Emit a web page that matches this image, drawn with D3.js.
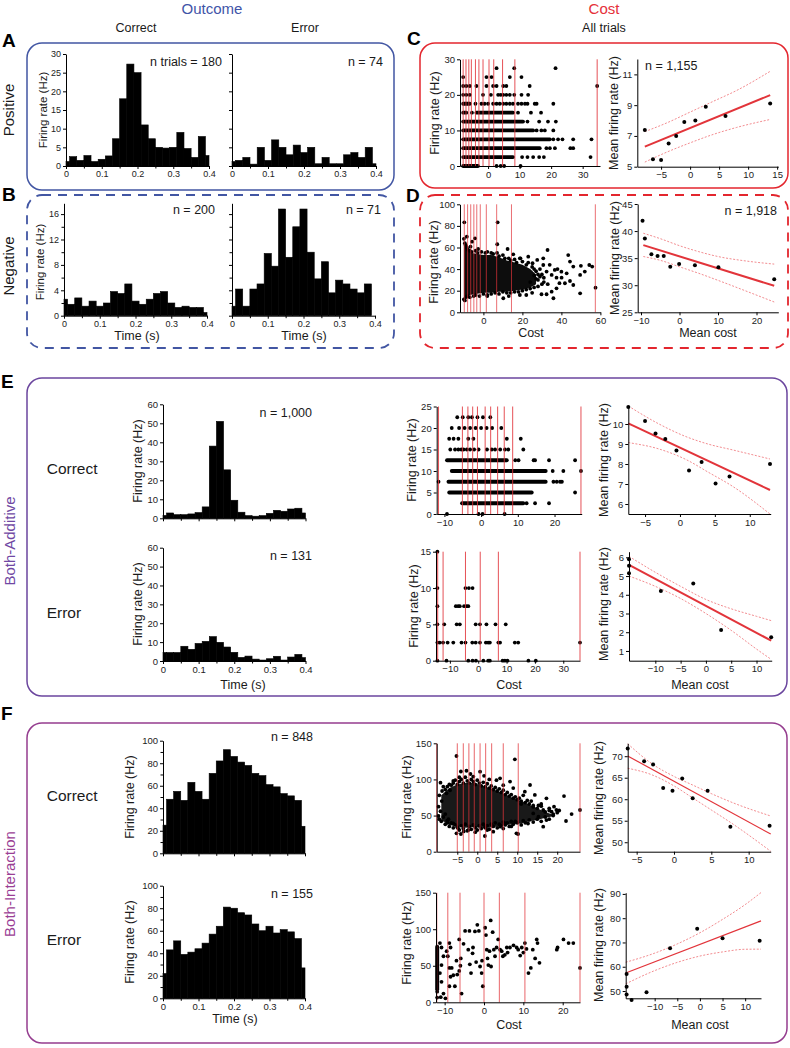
<!DOCTYPE html>
<html><head><meta charset="utf-8">
<script src="https://cdn.jsdelivr.net/npm/d3@7"></script>
<style>body{margin:0;background:#fff}svg{display:block}</style>
</head><body>
<svg id="fig" width="790" height="1048"></svg>
<script>
// ================= DATA =================
const binCenters = [0,0.02,0.04,0.06,0.08,0.1,0.12,0.14,0.16,0.18,0.2,0.22,0.24,0.26,0.28,0.3,0.32,0.34,0.36,0.38,0.4];
const binWidth = 0.02;
const histA_correct = [1.2,2.5,1.5,2.8,1.2,1.8,2.7,7.3,18,27.3,25,11,7.3,5,4.8,5,9,4.7,2.3,7.9,2.8];
const histA_error   = [1.2,1.5,2.3,0.5,5,1.5,7,5,3,5.6,3.6,5,0.6,2.3,0.6,0.6,3,3.6,2.3,5,0.6];
const histB_correct = [2.6,1.8,2.8,1.5,2.3,1.5,2,3.8,3.5,5,2.3,1.8,2.6,3.5,3.8,2,1.3,1.5,1.3,1.3,0.5];
const histB_error   = [1.5,4.2,1.5,4.2,5,9.8,7.8,16.8,9.2,14,16.8,10,5.8,8.5,3.6,5.6,5,4.2,3.6,5,0];
const histE_correct = [1.5,2.8,1.9,1.9,2.3,3,6,38,51,25.5,9.5,3.2,1.4,1.1,1.4,2.6,4.2,3.7,4.9,5.3,2.8];
const histE_error   = [4.5,4.5,4.5,7.8,6.2,9.3,10.4,12.9,9.9,7.4,4.6,1.9,2.6,1,0.5,1.2,2.5,0.5,2.1,3.5,1.8];
const histF_correct = [25,48,55,47,63,55,48,71,82,92,86,81,78,71,69,61,59,53,51,47,24];
const histF_error   = [22,43,51,39,41,44,49,57,64,81,80,76,74,66,60,64,58,61,59,53,27];

// tick values
const ticksTime = [0,0.1,0.2,0.3,0.4];
const ticksTimeMinor = [0.05,0.15,0.25,0.35];
const ticksA_y = [0,5,10,15,20,25,30];
const ticksB_y = [0,4,8,12,16];
const ticksB_yMinor = [2,6,10,14];
const ticksE_histY = [0,10,20,30,40,50,60];
const ticksF_histY = [0,20,40,60,80,100];
const ticksF_histYMinor = [10,30,50,70,90];
const ticksC_sx = [0,10,20,30], ticksC_sy = [0,10,20,30];
const ticksC_mx = [-5,0,5,10,15], ticksC_my = [5,7,9,11];
const ticksD_sx = [0,20,40,60], ticksD_sy = [0,20,40,60,80,100];
const ticksD_mx = [-10,0,10,20], ticksD_my = [25,30,35,40,45];
const ticksE3_x = [-10,0,10,20], ticksE3_y = [0,5,10,15,20,25];
const ticksE4_x = [-10,0,10,20,30], ticksE4_y = [0,5,10,15];
const ticksE5_x = [-5,0,5,10], ticksE5_y = [6,7,8,9,10];
const ticksE6_x = [-10,-5,0,5,10], ticksE6_y = [1,2,3,4,5,6];
const ticksF3_x = [-5,0,5,10,15,20], ticksF3_y = [0,50,100,150];
const ticksF4_x = [-10,0,10,20], ticksF4_y = [0,50,100,150];
const ticksF5_x = [-5,0,5,10], ticksF5_y = [50,55,60,65,70];
const ticksF6_x = [-10,-5,0,5,10], ticksF6_y = [50,60,70,80,90];

// ---- C: cost scatter (rows: [rate, dense runs, single points]) ----
const cutsC = [-7.9,-7.0,-6.1,-5.3,-4.0,-2.9,-1.6,0.3,1.8,4.6,8.5,34.6];
const rowsC = [
 [0,   [[-7.9,-3.2]], [2.7,4.0,5.1,10.3]],
 [2.5, [[-7.9,7.9]],  [10.8,12.5,14.3,16.2,17.7,32.5]],
 [5,   [[-7.9,16.4]], [18.5,19.6,21.2,26.1,27.0]],
 [7.5, [[-7.9,19.6]], [20.7,22.2,23.6,27.0,32.8]],
 [10,  [[-7.9,14.3]], [15.4,16.9,18.0,20.7]],
 [12.5,[[-7.9,11.1]], [12.5,16.2,19.0,21.5]],
 [15,  [[-7.9,-6.9],[-3.7,7.9]], [-5.1,9.5,13.6,16.8]],
 [17.5,[[-7.9,-5.8]], [-4.0,-2.1,-1.1,0,1.6,2.7,3.7,4.8,5.8,6.9,7.9,9.5,10.6,11.7,12.5,14.8,15.4,20.7]],
 [20,  [], [-7.9,-6.9,-5.8,-1.6,0.9,3.2,4.0,4.8,5.8,6.9,8.3,10.6,12.7]],
 [22.5,[], [-7.9,-6.9,-5.8,-3.7,-0.5,1.6,2.7,4.8,5.8,13.2,34.6]],
 [25,  [], [-7.9,-0.5,1.1,6.9,10.6]],
 [27.5,[], [2.7,8.3,21.4]]
];
const meanC = [[-7.8,7.38],[-6.4,5.48],[-5.0,5.43],[-3.7,6.5],[-2.4,7.0],[-1.0,7.9],[0.9,8.0],[2.7,8.9],[6.1,8.3],[13.8,9.1]];
const fitC = [[-7.8,6.3],[13.8,9.65]];
const ciUpC = [[-7.8,7.28],[-4,7.85],[0,8.55],[4,9.25],[8,9.95],[13.8,11.2]];
const ciLoC = [[-7.8,5.3],[-4,5.95],[0,6.55],[4,7.1],[8,7.55],[13.8,8.07]];

// ---- D ----
const cutsD = [-9.8,-8.1,-6.5,-4.9,-3.4,-1.6,1.5,6.8,14.4,57.4];
const coreD_upper = [[-10,64],[-9,62],[-8,57],[-6,55],[-3,54],[0,53],[4,53],[8,51],[12,48],[16,46],[20,44],[24,40],[27,35]];
const coreD_lower = [[27,26],[24,23],[20,21],[16,20],[12,19],[8,19],[4,18],[0,18],[-4,17],[-7,16],[-9,15],[-10,14]];
const ptsD = [[-9.8,83.3],[7.3,83.3],[-4.3,68.5],[-5.8,65.4],[-6.6,60.8],[-2.7,58.6],[7.1,63],[12.4,58.6],[15.3,53.7],[18.7,50],[23,51.5],[25.2,45.4],[27.6,48.5],[30.7,50],[32.9,57.7],[30.7,43.8],[32.4,37.7],[35,34.6],[37.5,32.1],[40.1,32.1],[43.5,53],[44.4,47],[46.1,42.3],[50,43],[52,37.7],[54.3,43.8],[55.8,42.3],[49.6,34.6],[44.4,29],[41.8,26.9],[46.1,25.3],[49.6,17.6],[37.5,22.2],[35,19.1],[32.4,16.7],[29.8,16.7],[35.9,13],[10.2,13],[18.7,16],[57.5,22.8],[40,37.6],[36.6,39.2],[42.7,36.1],[28,30],[31,28],[33,26],[29,40],[34,44],[38,40],[39,27],[26,34],[30,35],[-8.5,70],[-9.5,11],[2,15],[13,15],[22,16],[25,18],
 [-10,68],[-9.5,64],[-9,62],[-8.5,60],[-8,58],[-7,57],[-6,56],[-4,57],[-3,55],[-1,56],[1,55],[2,56],[4,55],[5,54],[7,55],[8,52],[10,53],[11,50],[13,50],[14,48],[16,49],[17,46],[19,50],[20,47],[22,44],[23,46],[25,42],[26,40],[27,38],[28,35],[29,33],
 [-10,12],[-9,14],[-8,15],[-7,14],[-5,15],[-4,16],[-2,15],[0,17],[2,16],[4,17],[6,18],[8,17],[10,19],[12,18],[14,18],[16,19],[18,19],[20,20],[22,21],[24,22],[26,23],[28,24],[30,26],[31,32],[24,28],[27,31]];
const meanD = [[-9.6,41.9],[-9.0,38.65],[-7.3,35.7],[-5.7,35.4],[-4.1,35.4],[-2.4,33.4],[-0.1,33.9],[4.0,33.7],[10.1,33.3],[24.6,31.1]];
const fitD = [[-9.4,37.4],[24.6,29.9]];
const ciUpD = [[-9.4,39.6],[-5,38.6],[0,37.3],[5,36.2],[10,35.3],[17,34.5],[24.6,33.9]];
const ciLoD = [[-9.4,35.3],[-5,34.6],[0,33.4],[5,32.2],[10,30.9],[17,29.0],[24.6,26.9]];

// ---- E ----
const cutsE_correct = [-11.6,-5.1,-3.6,-2.3,-1.0,1.1,2.6,4.5,6.3,8.6,27.2];
const rowsE_correct = [
 [0,   [], [-9.3,-0.7,0.4,6.4]],
 [2.5, [[-5.2,11.5]], [12.4,14.7,18.5]],
 [5,   [[-8.7,13.8]], [25.6]],
 [7.5, [[-8.9,17.6]], [-11.6,19.7,20.6,21.5,22.0]],
 [10,  [[-8.0,17.6]], [19.5,22.4,27.2]],
 [12.5,[[-9.3,7.0]], [9.3,10.2,14.3,14.7,18.5,25.6]],
 [15,  [], [-8.4,-7.1,-6.2,-5.4,-4.8,-3.9,-3.0,-1.9,-0.7,1.6,2.9,3.8,5.2,6.5,7.4,11.5]],
 [17.5,[], [-8.7,-7.5,-6.2,-3.5,-2.1,7.0,10.8]],
 [20,  [], [-8,-6,-4.5,-3,-1.5,0,1.5,3,5.5]],
 [22.5,[], [-6.5,-5,-3.5,-2.5,-1,0.5,2.5]]
];
const cutsE_error = [-14.3,-12.4,-4.5,0.7,7.1,35.9];
const rowsE_error = [
 [0,   [], [-14.4,-11.2,-3.5,-2.0,-0.8,1.8,3.5,4.1,8.6,9.4,10.3,17.7,20.3]],
 [2.5, [], [-14.4,-13.6,-12.4,-10.8,-8.8,-5.9,-4.5,-2.1,-0.9,0.6,2.7,3.5,4.1,7.1,7.7,12.9,14.1,35.9]],
 [5,   [], [-14.4,-12.0,-7.6,-6.5,-0.9,0.6,2.9,6.1,9.7]],
 [7.5, [], [-14.4,-7.9,-7.1,-6.5,-5.0,-4.1,-3.5]],
 [10,  [], [-14.4,-4.5,-3.3,-2.0]],
 [15,  [], [-14.4]]
];
const meanE_correct = [[-7.4,10.85],[-5,10.15],[-3.5,9.53],[-2.1,9.25],[-0.5,8.67],[1.3,7.67],[3.1,8.1],[5.1,7.03],[7.1,7.37],[12.9,8.0]];
const fitE_correct = [[-7.4,10.03],[12.9,6.7]];
const ciUpE_correct = [[-7.4,10.9],[-3,10.0],[1,9.35],[4,9.0],[7.6,8.7],[12.9,8.25]];
const ciLoE_correct = [[-7.4,9.07],[-3,8.75],[1,8.2],[4,7.6],[7.6,6.87],[12.9,5.5]];
const meanE_error = [[-15.2,5.9],[-15.2,5.55],[-15.2,5.15],[-8.9,4.2],[-2.5,4.6],[3.0,2.12],[12.9,1.73]];
const fitE_error = [[-15.2,5.6],[12.9,1.55]];
const ciUpE_error = [[-15.2,6.05],[-10,5.2],[-5,4.45],[0,3.75],[5,3.25],[10,2.85],[12.9,2.62]];
const ciLoE_error = [[-15.2,5.0],[-10,4.45],[-5,3.8],[0,3.0],[5,2.1],[10,1.1],[12.9,0.55]];

// ---- F ----
const cutsF_correct = [-10.15,-5,-3.5,-2.1,-0.75,0.7,2.1,3.6,6.5,10.25,25.7];
const coreF_upper = [[-9,78],[-7,88],[-5,93],[-3,95],[-1,95],[1,92],[3,88],[5,84],[7,79],[9,74],[11,70],[13,65],[15,60],[17,55],[19,51]];
const coreF_lower = [[19,49],[17,47],[15,44],[13,42],[11,39],[9,38],[7,37],[5,35],[3,33],[1,33],[-1,34],[-3,33],[-5,35],[-7,37],[-9,44]];
const ptsF_correct = [[-5.2,132.4],[9.4,127.8],[-9.2,95.5],[-8.5,90],[-2.7,112],[-4.1,111],[-1.7,107.5],[0.7,110.7],[1.7,105],[4.8,99],[5.7,101.5],[8.2,97],[13.2,92.3],[11.9,83],[14.4,78.5],[17.3,73.8],[19.2,62.3],[19.8,57.7],[21.7,77],[22.2,42.5],[23.6,52.1],[25.7,57.7],[16.5,57.7],[18.6,55.4],[17.3,43.8],[16.5,34.6],[15.3,48.5],[14.0,53],[-5.2,25.4],[-4.1,24.5],[1.9,21.7],[-4.8,32.3],[9.8,25.4],[10.2,24.5],[-9.7,62.3],[-9.7,49.4],[-9.2,56],[-8.9,70],[-7.7,80.8],[-6.8,85],[-7.2,45],[-6,39],[-2.2,30],[4.0,27.7],[5.7,34.6],[7,39],[12.7,39],[14,62],[11,66],[15.3,64],[18,60],[20.5,57],[-3.4,28],[-0.5,27],[2.5,30],[6.5,32],[8.5,35],[-8,52],[-1,104],[3,100],[6.5,92],[9,88],[11.5,78],[13.5,70],[16,66],[-6,98],[-4.5,103],[2,33],[-7.5,40],
 [-9.5,78],[-8.8,84],[-8,86],[-7.5,90],[-7,93],[-6.5,92],[-6,95],[-5.5,99],[-5,93],[-4.5,97],[-4,100],[-3.5,95],[-3,103],[-2.5,98],[-2,95],[-1.5,100],[-1,97],[-0.5,93],[0,99],[0.5,95],[1,91],[1.5,96],[2,90],[2.5,94],[3,88],[3.5,91],[4,86],[4.5,89],[5,84],[5.5,87],[6,82],[6.5,85],[7,79],[7.5,82],[8,77],[8.5,79],[9,74],[9.5,76],[10,72],[10.5,74],[11,70],[12,68],[12.5,71],[13,66],[14,64],[15,60],[16,63],[17,55],[18,57],[19,52],[20,54],
 [-9.5,45],[-9,42],[-8.5,48],[-8,38],[-7.5,43],[-7,35],[-6.5,40],[-6,33],[-5.5,37],[-5,34],[-4.5,30],[-4,36],[-3.5,32],[-3,38],[-2.5,29],[-2,35],[-1.5,31],[-1,37],[-0.5,33],[0,30],[0.5,36],[1,32],[1.5,38],[2,34],[2.5,36],[3,31],[3.5,38],[4,35],[4.5,40],[5,33],[5.5,38],[6,36],[6.5,41],[7,37],[7.5,40],[8,35],[8.5,42],[9,38],[9.5,42],[10,40],[11,37],[11.5,43],[12,40],[13,44],[14,41],[15,45],[16,42],[17,48],[18,45],[19,50]];
const meanF_correct = [[-6.2,71.8],[-4.0,68.8],[-2.8,68.05],[-1.45,62.6],[-0.2,61.95],[1.1,64.8],[2.5,60.2],[4.5,61.95],[7.55,53.6],[12.8,53.85]];
const fitF_correct = [[-6.2,70.05],[12.95,51.9]];
const ciUpF_correct = [[-6.2,72.9],[-3,68.3],[0,65.3],[2.5,63.3],[5,61.3],[8,59.1],[12.95,56.1]];
const ciLoF_correct = [[-6.2,67.2],[-3,65.7],[0,63.1],[2.5,60.3],[5,57.5],[8,54.1],[12.95,47.9]];

const cutsF_error = [-12.0,-9.2,-6.1,0,3.9,10.4,24.4];
const columnF_error = [-11.9, 18, 76];   // cost, low rate, high rate of the dense column
const ptsF_error = [[-11.2,81],[-10.8,75],[-10.3,63],[-10.8,51],[-11.2,40],[-10.8,28],[-11,7],[-10.3,12],[-9.8,5.5],[-9.2,63],[-8.8,81],[-8.5,75],[-8.8,47],[-8.2,47],[-8.5,35],[-8.8,22],[-7.8,37],[-7.4,22],[-7.0,57],[-6.8,38],[-6.3,86],[-6.3,43],[-5.9,60],[-5.7,12],[-4.8,97.7],[-3.7,97.7],[-4.0,72],[-3.6,52],[-2.9,67],[-3.3,40],[-2.3,97],[-1.7,106],[-1.3,97.7],[-0.6,40],[-0.3,22],[0.3,102],[0.5,92],[0.9,60],[1.1,51],[1.4,70],[1.7,112],[2.2,96],[2.5,72],[3.2,75],[3.6,86],[4.1,72],[4.8,63],[5.3,65],[5.8,75],[6.6,75],[7.5,78],[8.3,75],[8.7,72],[9.6,75],[10.4,81],[10.8,73],[11.3,40],[11.9,47],[12.4,72],[13.0,60],[13.4,86],[13.6,81],[14.1,54],[18.5,72],[18.7,75],[20.2,86],[21.5,81],[22.7,81],[24.4,47],[-0.5,57],[-1,49],[0.7,72],[2.8,63],[4.5,70],[6,68],[-5.2,80],[-6,50],[-9.5,70],[9.2,64],[10.0,68],[-2,55],[1.8,49],[-2.8,75],[-11.9,14.6],[-11.9,6.4]];
const meanF_error = [[-16.2,57],[-16.2,51.8],[-16.2,48.6],[-15.1,46.3],[-11.8,49.5],[-6.6,67.6],[-0.6,75.6],[5.0,71.7],[13.2,70.7]];
const fitF_error = [[-16.4,57.4],[13.5,78.9]];
const ciUpF_error = [[-16.4,61.85],[-10,65.6],[-5,69.4],[0,74.0],[5,79.5],[10,85.6],[13.5,90.55]];
const ciLoF_error = [[-16.4,52.95],[-10,58.4],[-5,61.8],[0,64.4],[5,66.1],[10,67.2],[13.5,67.25]];

// ================= DRAWING =================
const FONT = '"Liberation Sans", Arial, Helvetica, sans-serif';
const svg = d3.select('#fig');
const fmt = v => (v < 0 ? '\u2212' : '') + Math.abs(v);
const RED = '#e2343a';

function txt(x, y, s, o = {}) {
  const t = svg.append('text').attr('x', x).attr('y', y).text(s)
    .attr('font-family', FONT).attr('font-size', o.fs || 12)
    .attr('text-anchor', o.anchor || 'start').attr('fill', o.fill || '#1a1a1a');
  if (o.bold) t.attr('font-weight', 'bold');
  if (o.rot) t.attr('transform', `rotate(-90,${x},${y})`).attr('dy', '0.35em');
  return t;
}

function panel(p) {
  const x = d3.scaleLinear().domain(p.xd).range(p.xr);
  const y = d3.scaleLinear().domain(p.yd).range(p.yr);
  const root = svg.append('g');
  const marks = root.append('g');
  const over = root.append('g');
  const axes = root.append('g');
  const fs = p.fs || 9.5;
  const xa = d3.axisBottom(x).tickValues(p.xt).tickSize(3).tickSizeOuter(0).tickPadding(2)
    .tickFormat(p.xlab === false ? () => '' : fmt);
  const ya = d3.axisLeft(y).tickValues(p.yt).tickSize(3).tickSizeOuter(0).tickPadding(2)
    .tickFormat(p.ylab === false ? () => '' : fmt);
  const gx = axes.append('g').attr('transform', `translate(0,${p.yr[0]})`).call(xa);
  const gy = axes.append('g').attr('transform', `translate(${p.xr[0]},0)`).call(ya);
  [gx, gy].forEach(g => {
    g.attr('font-family', FONT).attr('font-size', fs);
    g.selectAll('.domain').attr('stroke', '#000').attr('stroke-width', 1);
    g.selectAll('.tick line').attr('stroke', '#000');
    g.selectAll('.tick text').attr('fill', '#222');
  });
  if (p.xm) axes.selectAll('line.xm').data(p.xm).join('line').attr('class', 'xm')
    .attr('x1', d => x(d) + 0.5).attr('x2', d => x(d) + 0.5).attr('y1', p.yr[0]).attr('y2', p.yr[0] + 2.5).attr('stroke', '#000');
  if (p.ym) axes.selectAll('line.ym').data(p.ym).join('line').attr('class', 'ym')
    .attr('y1', d => y(d) + 0.5).attr('y2', d => y(d) + 0.5).attr('x1', p.xr[0]).attr('x2', p.xr[0] - 2.5).attr('stroke', '#000');
  return { x, y, marks, over };
}

function drawHist(ax, vals) {
  const lo = c => Math.max(0, c - binWidth / 2), hi = c => Math.min(0.4, c + binWidth / 2);
  ax.marks.selectAll('rect').data(vals).join('rect')
    .attr('x', (d, i) => ax.x(lo(binCenters[i])))
    .attr('width', (d, i) => ax.x(hi(binCenters[i])) - ax.x(lo(binCenters[i])))
    .attr('y', d => ax.y(d)).attr('height', d => ax.y(0) - ax.y(d))
    .attr('fill', '#000').attr('stroke', '#000').attr('stroke-width', 0.6);
}

function drawRows(ax, rows, r) {
  rows.forEach(([rate, runs, pts]) => {
    runs.forEach(([a, b]) => ax.marks.append('line')
      .attr('x1', ax.x(a)).attr('x2', ax.x(b)).attr('y1', ax.y(rate)).attr('y2', ax.y(rate))
      .attr('stroke', '#000').attr('stroke-width', 2 * r).attr('stroke-linecap', 'round'));
    pts.forEach(c => ax.marks.append('circle').attr('cx', ax.x(c)).attr('cy', ax.y(rate)).attr('r', r).attr('fill', '#000'));
  });
}
function drawPts(ax, pts, r) {
  ax.marks.append('g').selectAll('circle').data(pts).join('circle')
    .attr('cx', d => ax.x(d[0])).attr('cy', d => ax.y(d[1])).attr('r', r).attr('fill', '#000');
}
function drawCore(ax, upper, lower, op) {
  const ln = d3.line().x(d => ax.x(d[0])).y(d => ax.y(d[1]));
  ax.marks.append('path').attr('d', ln(upper.concat(lower)) + 'Z').attr('fill', '#000').attr('opacity', op);
}
function drawCuts(ax, cuts, op) {
  const [y0, y1] = ax.y.range();
  ax.over.selectAll('line.cut').data(cuts).join('line').attr('class', 'cut')
    .attr('x1', d => ax.x(d)).attr('x2', d => ax.x(d)).attr('y1', y0).attr('y2', y1)
    .attr('stroke', RED).attr('stroke-width', 1).attr('opacity', op || 0.8);
}
function drawMean(ax, pts, fit, up, lo, lw) {
  const ln = d3.line().x(d => ax.x(d[0])).y(d => ax.y(d[1])).curve(d3.curveMonotoneX);
  [up, lo].forEach(c => ax.marks.append('path').attr('d', ln(c)).attr('fill', 'none')
    .attr('stroke', '#ef6f73').attr('stroke-width', 0.8).attr('stroke-dasharray', '2,1.6'));
  ax.marks.append('path').attr('d', ln(fit)).attr('fill', 'none').attr('stroke', RED).attr('stroke-width', lw);
  drawPts(ax, pts, 2);
}
function box(x0, y0, x1, y1, color, dashed) {
  svg.append('rect').attr('x', x0).attr('y', y0).attr('width', x1 - x0).attr('height', y1 - y0)
    .attr('rx', 15).attr('ry', 15).attr('fill', 'none').attr('stroke', color)
    .attr('stroke-width', dashed ? 1.8 : 1.5).attr('stroke-dasharray', dashed ? '9,7' : null);
}

// ---------- boxes & headings ----------
const BLUE = '#4256a3', PURP = '#6b469e', MAG = '#953d8f';
box(27, 43, 394, 190, BLUE, false);
box(27, 195, 394, 348, BLUE, true);
box(420, 43, 788, 188, '#e3262e', false);
box(420, 195, 788, 348, '#e3262e', true);
box(27, 378, 787, 696, PURP, false);
box(27, 723, 787, 1043, MAG, false);

txt(212, 14, 'Outcome', { fs: 15, anchor: 'middle', fill: '#3f54a8' });
txt(604, 14, 'Cost', { fs: 15, anchor: 'middle', fill: '#e5303a' });
txt(136, 32, 'Correct', { fs: 12.5, anchor: 'middle' });
txt(305, 32, 'Error', { fs: 12.5, anchor: 'middle' });
txt(604, 32, 'All trials', { fs: 12.5, anchor: 'middle' });
txt(2, 47, 'A', { fs: 19, bold: true, fill: '#000' });
txt(2, 201, 'B', { fs: 19, bold: true, fill: '#000' });
txt(407, 45, 'C', { fs: 19, bold: true, fill: '#000' });
txt(406, 202, 'D', { fs: 19, bold: true, fill: '#000' });
txt(1, 388, 'E', { fs: 19, bold: true, fill: '#000' });
txt(1, 720, 'F', { fs: 19, bold: true, fill: '#000' });
txt(8.5, 110, 'Positive', { fs: 15, anchor: 'middle', rot: true });
txt(8.5, 266, 'Negative', { fs: 15, anchor: 'middle', rot: true });
txt(9.5, 541, 'Both-Additive', { fs: 15, anchor: 'middle', rot: true, fill: '#7048a3' });
txt(9.5, 884, 'Both-Interaction', { fs: 15, anchor: 'middle', rot: true, fill: '#9a3e94' });

// ---------- A ----------
let ax;
ax = panel({ xd: [0, 0.4], xr: [66, 209], yd: [0, 30], yr: [166, 54], xt: ticksTime, xm: ticksTimeMinor, yt: ticksA_y, fs: 9 });
drawHist(ax, histA_correct);
ax = panel({ xd: [0, 0.4], xr: [232, 376], yd: [0, 30], yr: [166, 54], xt: ticksTime, xm: ticksTimeMinor, yt: ticksA_y, ylab: false, fs: 9 });
drawHist(ax, histA_error);
txt(43, 110, 'Firing rate (Hz)', { fs: 11.5, anchor: 'middle', rot: true });
txt(222, 66, 'n trials = 180', { fs: 12.5, anchor: 'end' });
txt(383, 66, 'n = 74', { fs: 12.5, anchor: 'end' });

// ---------- B ----------
ax = panel({ xd: [0, 0.4], xr: [64, 207], yd: [0, 17.7], yr: [315.7, 203.3], xt: ticksTime, xm: ticksTimeMinor, yt: ticksB_y, ym: ticksB_yMinor, fs: 9 });
drawHist(ax, histB_correct);
ax = panel({ xd: [0, 0.4], xr: [232, 375], yd: [0, 17.7], yr: [315.7, 203.3], xt: ticksTime, xm: ticksTimeMinor, yt: ticksB_y, ym: ticksB_yMinor, ylab: false, fs: 9 });
drawHist(ax, histB_error);
txt(40, 262, 'Firing rate (Hz)', { fs: 11.5, anchor: 'middle', rot: true });
txt(215, 214, 'n = 200', { fs: 12.5, anchor: 'end' });
txt(381, 214, 'n = 71', { fs: 12.5, anchor: 'end' });
txt(137, 340, 'Time (s)', { fs: 12.5, anchor: 'middle' });
txt(304, 340, 'Time (s)', { fs: 12.5, anchor: 'middle' });

// ---------- C ----------
ax = panel({ xd: [-8.9, 35.5], xr: [460, 600], yd: [0, 30], yr: [166, 59.3], xt: ticksC_sx, yt: ticksC_sy });
drawRows(ax, rowsC, 1.9);
drawCuts(ax, cutsC, 0.85);
txt(435, 113, 'Firing rate (Hz)', { fs: 12.5, anchor: 'middle', rot: true });
ax = panel({ xd: [-9.1, 15.2], xr: [637.3, 778.3], yd: [5, 12], yr: [166.7, 59], xt: ticksC_mx, yt: ticksC_my });
drawMean(ax, meanC, fitC, ciUpC, ciLoC, 2);
txt(614, 113, 'Mean firing rate (Hz)', { fs: 12.5, anchor: 'middle', rot: true });
txt(645, 70, 'n = 1,155', { fs: 12.5 });

// ---------- D ----------
ax = panel({ xd: [-12, 60], xr: [460, 600.4], yd: [0, 100], yr: [312.3, 204.3], xt: ticksD_sx, yt: ticksD_sy });
drawCore(ax, coreD_upper, coreD_lower, 0.95);
drawPts(ax, ptsD, 1.9);
drawCuts(ax, cutsD, 0.7);
txt(434, 262, 'Firing rate (Hz)', { fs: 12.5, anchor: 'middle', rot: true });
txt(531, 337, 'Cost', { fs: 12.5, anchor: 'middle' });
ax = panel({ xd: [-10.86, 25.66], xr: [637.7, 778.3], yd: [25, 45], yr: [312.3, 204], xt: ticksD_mx, yt: ticksD_my });
drawMean(ax, meanD, fitD, ciUpD, ciLoD, 2);
txt(615, 258, 'Mean firing rate (Hz)', { fs: 12.5, anchor: 'middle', rot: true });
txt(708, 337, 'Mean cost', { fs: 12.5, anchor: 'middle' });
txt(777, 215, 'n = 1,918', { fs: 12.5, anchor: 'end' });

// ---------- E ----------
txt(46.7, 474, 'Correct', { fs: 15.5 });
txt(46.7, 618, 'Error', { fs: 15.5 });
ax = panel({ xd: [0, 0.4], xr: [163, 305.5], yd: [0, 60], yr: [518.3, 404.3], xt: ticksTime, xm: ticksTimeMinor, xlab: false, yt: ticksE_histY });
drawHist(ax, histE_correct);
ax = panel({ xd: [0, 0.4], xr: [163, 305.5], yd: [0, 60], yr: [661, 547.7], xt: ticksTime, xm: ticksTimeMinor, yt: ticksE_histY });
drawHist(ax, histE_error);
txt(138, 461, 'Firing rate (Hz)', { fs: 12.5, anchor: 'middle', rot: true });
txt(138, 604, 'Firing rate (Hz)', { fs: 12.5, anchor: 'middle', rot: true });
txt(312, 417, 'n = 1,000', { fs: 12.5, anchor: 'end' });
txt(312, 560, 'n = 131', { fs: 12.5, anchor: 'end' });
txt(243, 689, 'Time (s)', { fs: 12.5, anchor: 'middle' });

ax = panel({ xd: [-12.1, 27.4], xr: [436.7, 581.7], yd: [0, 25], yr: [514, 406.5], xt: ticksE3_x, yt: ticksE3_y });
drawRows(ax, rowsE_correct, 1.9);
drawCuts(ax, cutsE_correct, 0.85);
ax = panel({ xd: [-14.9, 35.9], xr: [436, 580], yd: [0, 15], yr: [660.7, 551.7], xt: ticksE4_x, yt: ticksE4_y });
drawRows(ax, rowsE_error, 1.9);
drawCuts(ax, cutsE_error, 0.85);
txt(412, 460, 'Firing rate (Hz)', { fs: 12.5, anchor: 'middle', rot: true });
txt(414, 606, 'Firing rate (Hz)', { fs: 12.5, anchor: 'middle', rot: true });
txt(509, 689, 'Cost', { fs: 12.5, anchor: 'middle' });

ax = panel({ xd: [-7.4, 13], xr: [628.3, 770.7], yd: [5.5, 10.9], yr: [514, 406], xt: ticksE5_x, yt: ticksE5_y });
drawMean(ax, meanE_correct, fitE_correct, ciUpE_correct, ciLoE_correct, 2);
ax = panel({ xd: [-15.2, 13], xr: [629, 771.7], yd: [0.48, 6.3], yr: [660.7, 551.7], xt: ticksE6_x, yt: ticksE6_y });
drawMean(ax, meanE_error, fitE_error, ciUpE_error, ciLoE_error, 2);
txt(604, 460, 'Mean firing rate (Hz)', { fs: 12.5, anchor: 'middle', rot: true });
txt(604, 604, 'Mean firing rate (Hz)', { fs: 12.5, anchor: 'middle', rot: true });
txt(700, 689, 'Mean cost', { fs: 12.5, anchor: 'middle' });

// ---------- F ----------
txt(46.7, 801, 'Correct', { fs: 15.5 });
txt(46.7, 945, 'Error', { fs: 15.5 });
ax = panel({ xd: [0, 0.4], xr: [163, 305], yd: [0, 100], yr: [853.3, 740.7], xt: ticksTime, xm: ticksTimeMinor, xlab: false, yt: ticksF_histY, ym: ticksF_histYMinor });
drawHist(ax, histF_correct);
ax = panel({ xd: [0, 0.4], xr: [163, 305], yd: [0, 100], yr: [998.3, 885.7], xt: ticksTime, xm: ticksTimeMinor, yt: ticksF_histY, ym: ticksF_histYMinor });
drawHist(ax, histF_error);
txt(130, 797, 'Firing rate (Hz)', { fs: 12.5, anchor: 'middle', rot: true });
txt(130, 942, 'Firing rate (Hz)', { fs: 12.5, anchor: 'middle', rot: true });
txt(313, 741, 'n = 848', { fs: 12.5, anchor: 'end' });
txt(313, 898, 'n = 155', { fs: 12.5, anchor: 'end' });
txt(235, 1023, 'Time (s)', { fs: 12.5, anchor: 'middle' });

ax = panel({ xd: [-10.15, 25.7], xr: [436.7, 580], yd: [0, 150], yr: [851.7, 743.3], xt: ticksF3_x, yt: ticksF3_y });
drawCore(ax, coreF_upper, coreF_lower, 0.9);
drawPts(ax, ptsF_correct, 1.9);
drawCuts(ax, cutsF_correct, 0.75);
ax = panel({ xd: [-12.2, 24.4], xr: [436, 580], yd: [0, 150], yr: [1002.3, 892.7], xt: ticksF4_x, yt: ticksF4_y });
ax.marks.append('line').attr('x1', ax.x(columnF_error[0])).attr('x2', ax.x(columnF_error[0]))
  .attr('y1', ax.y(columnF_error[1])).attr('y2', ax.y(columnF_error[2]))
  .attr('stroke', '#000').attr('stroke-width', 4).attr('stroke-linecap', 'round');
drawPts(ax, ptsF_error, 1.9);
drawCuts(ax, cutsF_error, 0.75);
txt(407, 797, 'Firing rate (Hz)', { fs: 12.5, anchor: 'middle', rot: true });
txt(407, 943, 'Firing rate (Hz)', { fs: 12.5, anchor: 'middle', rot: true });
txt(509, 1029, 'Cost', { fs: 12.5, anchor: 'middle' });

ax = panel({ xd: [-6.2, 12.95], xr: [627.7, 770.7], yd: [47.8, 73], yr: [851.7, 743.3], xt: ticksF5_x, yt: ticksF5_y });
drawMean(ax, meanF_correct, fitF_correct, ciUpF_correct, ciLoF_correct, 1.2);
ax = panel({ xd: [-16.4, 13.5], xr: [625.7, 761], yd: [47, 90.5], yr: [998.3, 892.7], xt: ticksF6_x, yt: ticksF6_y });
drawMean(ax, meanF_error, fitF_error, ciUpF_error, ciLoF_error, 1.2);
txt(599, 798, 'Mean firing rate (Hz)', { fs: 12.5, anchor: 'middle', rot: true });
txt(599, 945, 'Mean firing rate (Hz)', { fs: 12.5, anchor: 'middle', rot: true });
txt(700, 1029, 'Mean cost', { fs: 12.5, anchor: 'middle' });
</script>
</body></html>
